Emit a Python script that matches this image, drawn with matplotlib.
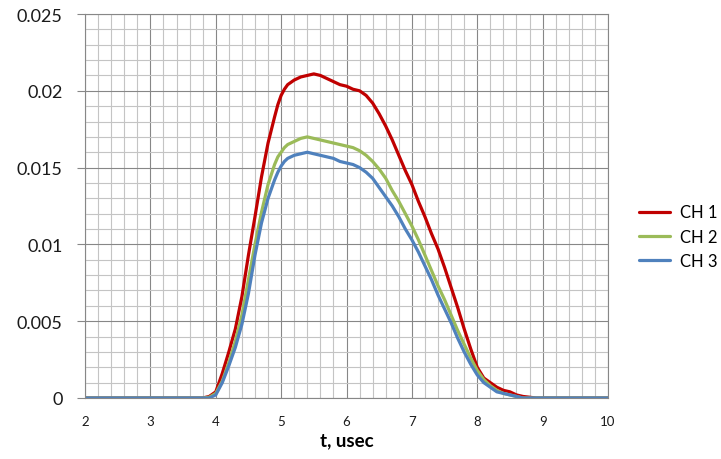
import numpy as np
import matplotlib
matplotlib.use("Agg")
import matplotlib.pyplot as plt
from matplotlib.ticker import MultipleLocator, FuncFormatter

plt.rcParams['font.family'] = ['Lato', 'DejaVu Sans']

# time axis, usec (flat zero outside 3.8 .. 9.0)
t = [2.0, 3.8, 3.9, 4.0, 4.1, 4.2, 4.3, 4.4, 4.5, 4.6, 4.7, 4.8, 4.9, 4.95,
     5.0, 5.05, 5.1, 5.2, 5.3, 5.4, 5.5, 5.6, 5.7, 5.8, 5.9,
     6.0, 6.1, 6.2, 6.3, 6.4, 6.5, 6.6, 6.7, 6.8, 6.9,
     7.0, 7.1, 7.2, 7.3, 7.4, 7.5, 7.6, 7.7, 7.8, 7.9,
     8.0, 8.1, 8.2, 8.3, 8.4, 8.5, 8.6, 8.7, 8.8, 8.9, 9.0, 10.0]

ch1 = [0, 0, 0.0001, 0.0004, 0.0016, 0.0030, 0.0045, 0.0066, 0.0093, 0.0118, 0.0144, 0.0166, 0.0183, 0.0191,
       0.0197, 0.0201, 0.0204, 0.0207, 0.0209, 0.0210, 0.0211, 0.0210, 0.0208, 0.0206, 0.0204,
       0.0203, 0.0201, 0.0200, 0.0197, 0.0192, 0.0185, 0.0177, 0.0168, 0.0158, 0.0148,
       0.0139, 0.0128, 0.0118, 0.0107, 0.0097, 0.0085, 0.0072, 0.0059, 0.0045, 0.0032,
       0.0020, 0.0013, 0.0010, 0.0007, 0.0005, 0.0004, 0.0002, 0.0001, 0.00005, 0, 0, 0]

ch2 = [0, 0, 0.00005, 0.0003, 0.0011, 0.0023, 0.0037, 0.0054, 0.0077, 0.0100, 0.0121, 0.0139, 0.0152, 0.0157,
       0.0160, 0.0163, 0.0165, 0.0167, 0.0169, 0.0170, 0.0169, 0.0168, 0.0167, 0.0166, 0.0165,
       0.0164, 0.0163, 0.0161, 0.0158, 0.0154, 0.0149, 0.0143, 0.0135, 0.0128, 0.0120,
       0.0112, 0.0103, 0.0093, 0.0083, 0.0073, 0.0064, 0.0054, 0.0044, 0.0035, 0.0026,
       0.0018, 0.0012, 0.0008, 0.0005, 0.0003, 0.0002, 0.0001, 0, 0, 0, 0, 0]

ch3 = [0, 0, 0, 0.0002, 0.0010, 0.0021, 0.0033, 0.0048, 0.0068, 0.0093, 0.0114, 0.0130, 0.0142, 0.0147,
       0.0151, 0.0154, 0.0156, 0.0158, 0.0159, 0.0160, 0.0159, 0.0158, 0.0157, 0.0156, 0.0154,
       0.0153, 0.0152, 0.0150, 0.0147, 0.0143, 0.0137, 0.0131, 0.0125, 0.0118, 0.0110,
       0.0103, 0.0095, 0.0086, 0.0077, 0.0067, 0.0058, 0.0049, 0.0039, 0.0030, 0.0022,
       0.0015, 0.0010, 0.0007, 0.0004, 0.0003, 0.0002, 0.0001, 0, 0, 0, 0, 0]

labels = ["CH 1", "CH 2", "CH 3"]
colors = ["#C00000", "#9BBB59", "#4F81BD"]

fig = plt.figure(figsize=(7.21, 4.60), dpi=100)
ax = fig.add_axes([85 / 721, 1 - 399 / 460, (608 - 85) / 721, (399 - 15) / 460])

for y, lab, c in zip([ch1, ch2, ch3], labels, colors):
    ax.plot(t, y, color=c, lw=2.3, label=lab, solid_capstyle='round')

ax.set_xlim(2, 10)
ax.set_ylim(0, 0.025)
ax.xaxis.set_major_locator(MultipleLocator(1))
ax.xaxis.set_minor_locator(MultipleLocator(0.2))
ax.yaxis.set_major_locator(MultipleLocator(0.005))
ax.yaxis.set_minor_locator(MultipleLocator(0.001))
ax.yaxis.set_major_formatter(FuncFormatter(lambda v, p: "%g" % round(v, 4)))

ax.grid(which='major', color='#878787', lw=0.8)
ax.grid(which='minor', color='#C4C4C4', lw=0.8)
ax.set_axisbelow(True)
for s in ax.spines.values():
    s.set_color('#878787')
    s.set_linewidth(0.8)

ax.tick_params(axis='y', which='major', length=6, color='#878787', width=0.8,
               pad=10, labelsize=13, labelcolor='#1a1a1a')
ax.tick_params(axis='x', which='major', length=0, pad=12, labelsize=9.5,
               labelcolor='#1a1a1a')
ax.tick_params(which='minor', length=0)

ax.set_xlabel("t, usec", fontsize=13.5, fontweight='bold', labelpad=3)

ax.legend(loc='center left', bbox_to_anchor=(1.03, 0.42), frameon=False,
          fontsize=12, handlelength=1.9, handletextpad=0.6, labelspacing=0.5)

fig.savefig("out.png", dpi=100)
